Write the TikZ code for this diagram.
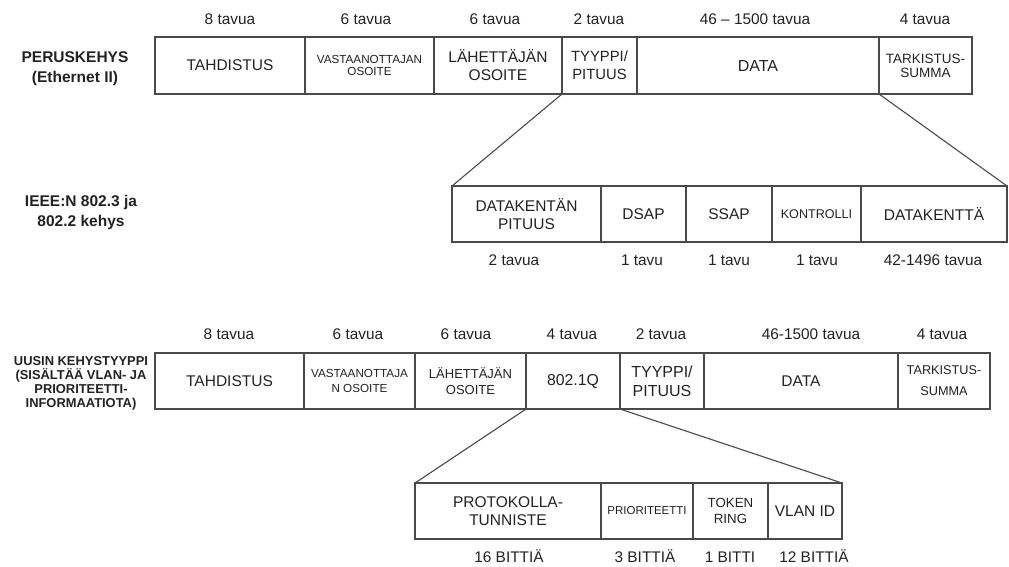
\documentclass[tikz,border=0pt]{standalone}
\usepackage{fontspec}
\setmainfont{Liberation Sans}
\definecolor{linegray}{HTML}{4A4A4A}
\definecolor{textgray}{HTML}{222222}
% one frame field: style, name, left, right, top, bottom, text
\newcommand{\framefield}[7]{%
  \node[fld,#1,minimum width={#4pt-#3pt},minimum height={#6pt-#5pt}] (#2) at (#3,#5) {#7};}
\begin{document}
\begin{tikzpicture}[x=1pt,y=-1pt,
  ink/.style={draw=linegray, line width=1.1pt},
  fld/.style={ink, rectangle, inner sep=0pt, outer sep=0pt, anchor=north west,
              align=center, text=textgray, font=\fontsize{15.5}{18}\selectfont},
  fsmall/.style={font=\fontsize{11.7}{13}\selectfont},
  fmid/.style={font=\fontsize{13}{15.7}\selectfont},
  lbl/.style={text=textgray, inner sep=0pt, text height=11pt, text depth=0pt,
              font=\fontsize{15.4}{18}\selectfont},
  side/.style={text=textgray, inner sep=0pt, align=center, font=\bfseries\fontsize{15.5}{19.5}\selectfont},
]
\useasboundingbox (0,0) rectangle (1009,566);

% ---------- basic frame (Ethernet II) ----------
\node[side] (hA) at (75,68.5) {PERUSKEHYS\\(Ethernet II)};
\framefield{}{aSync}{155}{305}{37}{94}{TAHDISTUS}
\framefield{font=\fontsize{11.7}{12.7}\selectfont}{aDst}{305}{434}{37}{94}{VASTAANOTTAJAN\\OSOITE}
\framefield{}{aSrc}{434}{562}{37}{94}{LÄHETTÄJÄN\\OSOITE}
\framefield{font=\fontsize{14.8}{18}\selectfont}{aType}{562}{637}{37}{94}{TYYPPI/\\PITUUS}
\framefield{font=\fontsize{16}{18}\selectfont}{aData}{637}{879}{37}{94}{DATA}
\framefield{font=\fontsize{13.5}{14}\selectfont}{aFcs}{879}{972}{37}{94}{TARKISTUS-\\SUMMA}

\node[lbl] (aL1) at (230,19) {8 tavua};
\node[lbl] (aL2) at (366,19) {6 tavua};
\node[lbl] (aL3) at (495,19) {6 tavua};
\node[lbl] (aL4) at (599,19) {2 tavua};
\node[lbl] (aL5) at (755,19) {46 – 1500 tavua};
\node[lbl] (aL6) at (925,19) {4 tavua};

% ---------- IEEE 802.3 / 802.2 frame ----------
\node[side] (hB) at (81,212.5) {IEEE:N 802.3 ja\\802.2 kehys};
\framefield{}{bLen}{452}{601}{186}{242}{DATAKENTÄN\\PITUUS}
\framefield{}{bDsap}{601}{686}{186}{242}{DSAP}
\framefield{}{bSsap}{686}{772}{186}{242}{SSAP}
\framefield{font=\fontsize{12.6}{15}\selectfont}{bCtl}{772}{861}{186}{242}{KONTROLLI}
\framefield{}{bData}{861}{1007}{186}{242}{DATAKENTTÄ}

\node[lbl] (bL1) at (514,260) {2 tavua};
\node[lbl] (bL2) at (642,260) {1 tavu};
\node[lbl] (bL3) at (729,260) {1 tavu};
\node[lbl] (bL4) at (817,260) {1 tavu};
\node[lbl] (bL5) at (933,260) {42-1496 tavua};

\draw[ink] (aType.south west) -- (bLen.north west);
\draw[ink] (aData.south east) -- (bData.north east);

% ---------- tagged frame (802.1Q) ----------
\node[side, font=\bfseries\fontsize{12.9}{14}\selectfont] (hC) at (81,383)
  {UUSIN KEHYSTYYPPI\\(SISÄLTÄÄ VLAN- JA\\PRIORITEETTI-\\INFORMAATIOTA)};
\framefield{}{cSync}{155}{304}{353}{409}{TAHDISTUS}
\framefield{font=\fontsize{11.7}{15}\selectfont}{cDst}{304}{415}{353}{409}{VASTAANOTTAJA\\N OSOITE}
\framefield{fmid}{cSrc}{415}{526}{353}{409}{LÄHETTÄJÄN\\OSOITE}
\framefield{font=\fontsize{15.8}{18}\selectfont}{cTag}{526}{620}{353}{409}{802.1Q}
\framefield{font=\fontsize{16}{19}\selectfont}{cType}{620}{704}{353}{409}{TYYPPI/\\PITUUS}
\framefield{}{cData}{704}{898}{353}{409}{DATA}
\framefield{font=\fontsize{12.7}{21}\selectfont}{cFcs}{898}{990}{353}{409}{TARKISTUS-\\SUMMA}

\node[lbl] (cL1) at (229,334) {8 tavua};
\node[lbl] (cL2) at (358,334) {6 tavua};
\node[lbl] (cL3) at (466,334) {6 tavua};
\node[lbl] (cL4) at (572,334) {4 tavua};
\node[lbl] (cL5) at (661,334) {2 tavua};
\node[lbl] (cL6) at (811,334) {46-1500 tavua};
\node[lbl] (cL7) at (942,334) {4 tavua};

% ---------- 802.1Q tag contents ----------
\framefield{}{dTpid}{415}{601}{483}{539}{PROTOKOLLA-\\TUNNISTE}
\framefield{font=\fontsize{11.5}{13}\selectfont}{dPrio}{601}{693}{483}{539}{PRIORITEETTI}
\framefield{font=\fontsize{13.3}{16.7}\selectfont}{dTok}{693}{768}{483}{539}{TOKEN\\RING}
\framefield{}{dVid}{768}{842}{483}{539}{VLAN ID}

\node[lbl] (dL1) at (509,557) {16 BITTIÄ};
\node[lbl] (dL2) at (645,557) {3 BITTIÄ};
\node[lbl] (dL3) at (730,557) {1 BITTI};
\node[lbl] (dL4) at (814,557) {12 BITTIÄ};

\draw[ink] (cTag.south west) -- (dTpid.north west);
\draw[ink] (cTag.south east) -- (dVid.north east);
\end{tikzpicture}
\end{document}
